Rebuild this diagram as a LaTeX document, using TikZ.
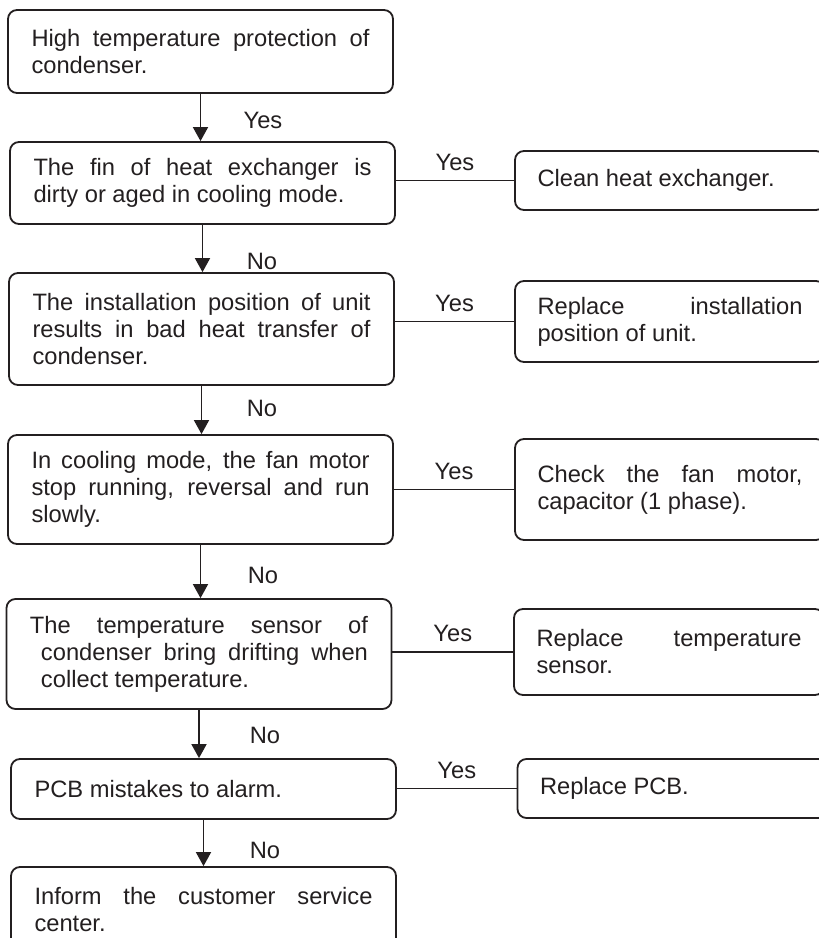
\documentclass[tikz,border=0pt]{standalone}
\usepackage{fontspec}
\setmainfont{Liberation Sans}
\usetikzlibrary{arrows.meta}
\definecolor{ink}{RGB}{35,31,32}
\hyphenpenalty=10000
\exhyphenpenalty=10000
\tolerance=10000
\hbadness=10000
\begin{document}
\begin{tikzpicture}[x=1pt,y=-1pt,
  every node/.style={font=\fontsize{23.7}{27}\selectfont, text=ink},
  lbox/.style={draw=ink, line width=1.8pt, rounded corners=9pt, align=justify,
    text width=338pt, inner xsep=23.5pt, inner ysep=0pt, minimum width=385pt},
  rbox/.style={draw=ink, line width=1.8pt, rounded corners=9pt, align=justify,
    text width=265pt, inner xsep=22.5pt, inner ysep=0pt, minimum width=310pt},
  arr/.style={draw=ink, line width=1.8pt, -{Triangle[length=14pt,width=15pt]}},
  conn/.style={draw=ink, line width=1.6pt},
  lab/.style={inner sep=0pt}]
\useasboundingbox (0,0) rectangle (819,938);
\clip (0,0) rectangle (819,938);

% left column
\node[lbox, minimum height=83pt] (B1) at (200.5,51.5)
  {High temperature protection of\linebreak condenser.};
\node[lbox, minimum height=82pt] (B2) at (202.5,183)
  {\parfillskip=0pt The fin of heat exchanger is\linebreak dirty or aged in cooling mode.};
\node[lbox, minimum height=112pt] (B3) at (201.5,329)
  {The installation position of unit\linebreak results in bad heat transfer of\linebreak condenser.};
\node[lbox, minimum height=109pt] (B4) at (200.5,489.5)
  {In cooling mode, the fan motor\linebreak stop running, reversal and run\linebreak slowly.};
\node[lbox, minimum height=110pt] (B5) at (199,654)
  {The temperature sensor of\linebreak\hspace*{11pt}condenser bring drifting when\linebreak\hspace*{11pt}collect temperature.};
\node[lbox, minimum height=60pt] (B6) at (203.5,789)
  {PCB mistakes to alarm.};
\node[lbox, minimum height=86pt] (B7) at (203.5,910)
  {Inform the customer service\linebreak center.};

% right column
\node[rbox, minimum height=59pt] (R1) at (670,180.5)
  {Clean heat exchanger.};
\node[rbox, minimum height=81pt] (R2) at (670,321.5)
  {Replace installation\linebreak position of unit.};
\node[rbox, minimum height=101pt] (R3) at (670,489.5)
  {Check the fan motor,\linebreak capacitor (1 phase).};
\node[rbox, minimum height=86pt] (R4) at (669,652)
  {Replace temperature\linebreak sensor.};
\node[rbox, minimum height=59pt] (R5) at (672.5,788.5)
  {Replace PCB.};

% vertical arrows
\draw[arr] (B1.south) -- (B1.south |- B2.north);
\draw[arr] (B2.south) -- (B2.south |- B3.north);
\draw[arr] (B3.south) -- (B3.south |- B4.north);
\draw[arr] (B4.south) -- (B4.south |- B5.north);
\draw[arr] (B5.south) -- (B5.south |- B6.north);
\draw[arr] (B6.south) -- (B6.south |- B7.north);

% vertical labels
\node[lab] (lY1) at (263,120) {Yes};
\node[lab] (lN2) at (262,261) {No};
\node[lab] (lN3) at (262,408) {No};
\node[lab] (lN4) at (263,575) {No};
\node[lab] (lN5) at (265,735) {No};
\node[lab] (lN6) at (265,850) {No};

% horizontal connectors
\draw[conn] (B2.east |- R1.west) -- node[lab, above=9pt] {Yes} (R1.west);
\draw[conn] (B3.east |- R2.west) -- node[lab, above=9pt] {Yes} (R2.west);
\draw[conn] (B4.east |- R3.west) -- node[lab, above=9pt] {Yes} (R3.west);
\draw[conn] (B5.east |- R4.west) -- node[lab, above=9pt] {Yes} (R4.west);
\draw[conn] (B6.east |- R5.west) -- node[lab, above=9pt] {Yes} (R5.west);
\end{tikzpicture}
\end{document}
